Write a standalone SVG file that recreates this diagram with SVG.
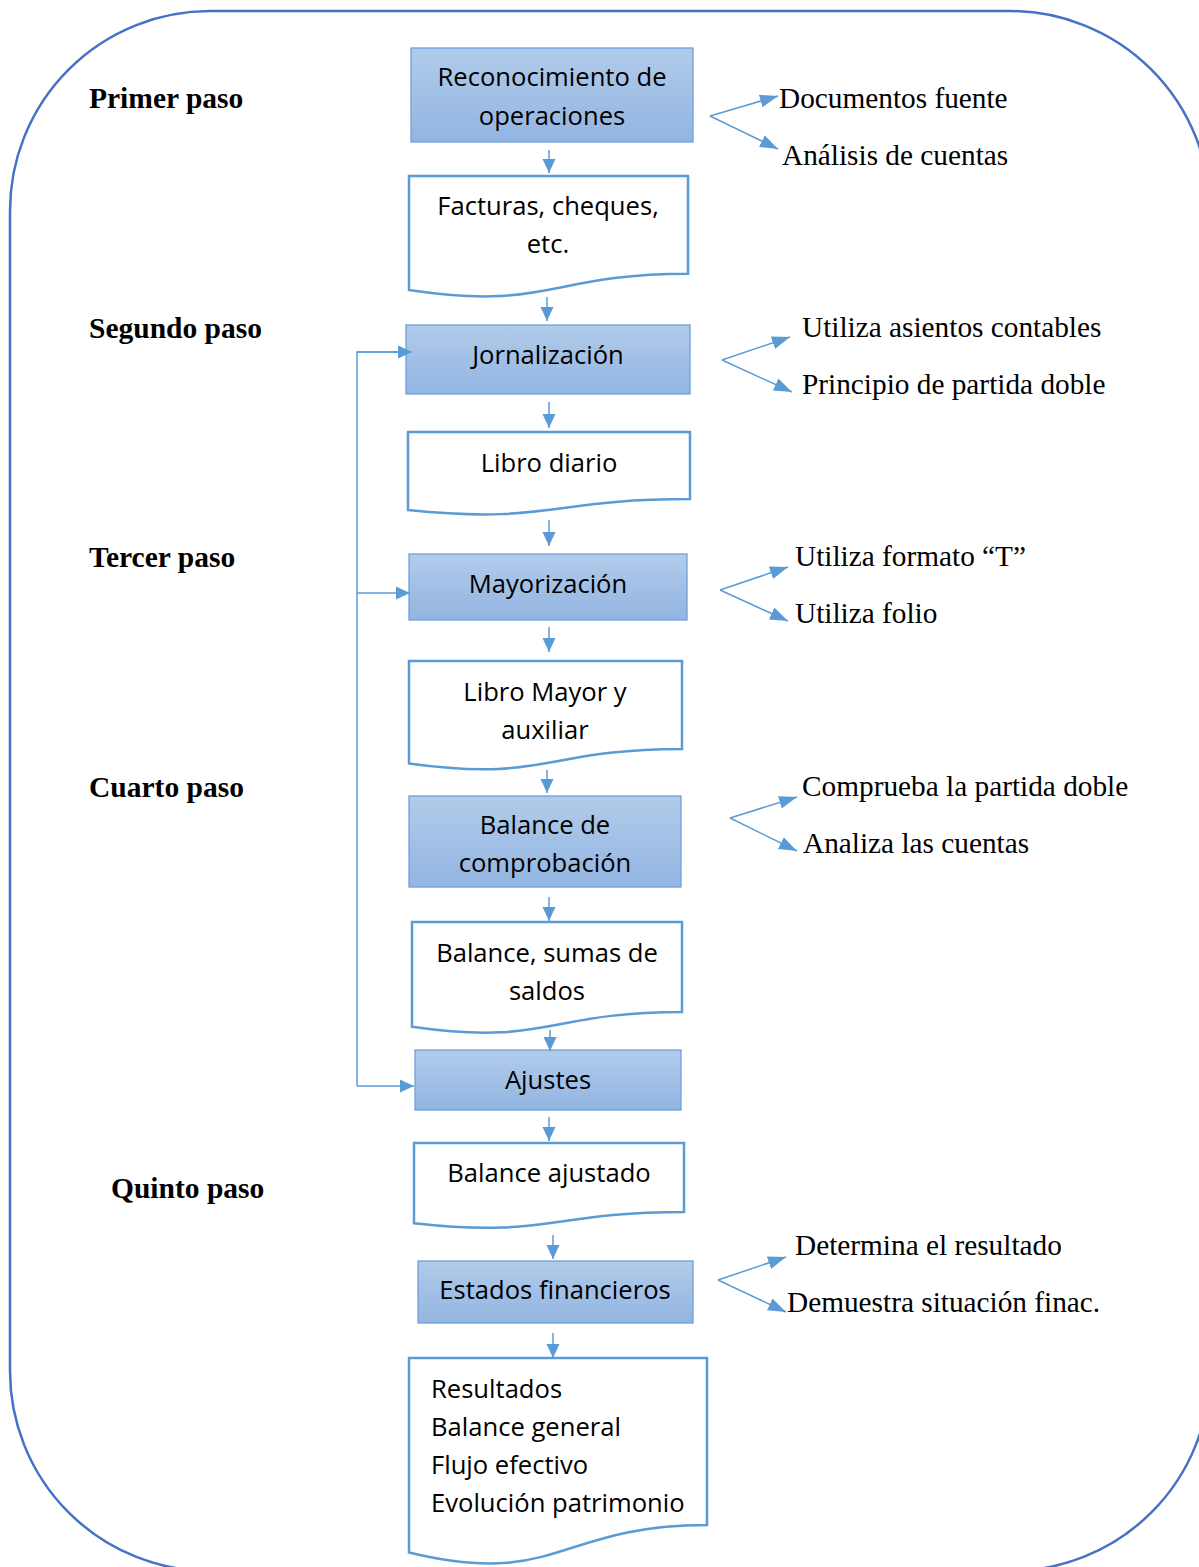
<svg xmlns="http://www.w3.org/2000/svg" width="1199" height="1567" viewBox="0 0 1199 1567">
<style>
.frame{fill:none;stroke:#4472C4;stroke-width:2.5}
.proc{fill:url(#g);stroke:#6fa0d6;stroke-width:1.3}
.doc{fill:#fff;stroke:#5b9bd5;stroke-width:2.5}
.t{font-family:"Open Sans","Noto Sans",sans-serif;font-size:25.6px;fill:#000;text-anchor:middle}
.tl{font-family:"Open Sans","Noto Sans",sans-serif;font-size:25.6px;fill:#000}
.step{font-family:"Liberation Serif","Times New Roman",serif;font-size:29.5px;font-weight:bold;fill:#000}
.lbl{font-family:"Liberation Serif","Times New Roman",serif;font-size:29.3px;fill:#000}
.c{fill:none;stroke:#5b9bd5;stroke-width:1.5}
.cv{fill:none;stroke:#5b9bd5;stroke-width:1.5;marker-end:url(#ah)}
.cf{fill:none;stroke:#5b9bd5;stroke-width:1.5;marker-end:url(#af)}
</style>
<defs>
<linearGradient id="g" x1="0" y1="0" x2="0" y2="1">
<stop offset="0" stop-color="#b1cbea"/>
<stop offset="1" stop-color="#93b5e2"/>
</linearGradient>
<marker id="ah" markerUnits="userSpaceOnUse" markerWidth="16" markerHeight="16" viewBox="0 0 16 16" refX="14" refY="8" orient="auto">
<path d="M0,1.5 L14,8 L0,14.5 Z" fill="#5b9bd5"/>
</marker>
<marker id="af" markerUnits="userSpaceOnUse" markerWidth="20" markerHeight="16" viewBox="0 0 20 16" refX="18" refY="8" orient="auto">
<path d="M0,1.5 L18,8 L0,14.5 Z" fill="#5b9bd5"/>
</marker>
</defs>

<rect class="frame" x="10" y="11" width="1200" height="1560" rx="200" ry="200"/>

<g id="steps">
<text class="step" x="89" y="108">Primer paso</text>
<text class="step" x="89" y="338">Segundo paso</text>
<text class="step" x="89" y="567">Tercer paso</text>
<text class="step" x="89" y="797">Cuarto paso</text>
<text class="step" x="111" y="1198">Quinto paso</text>
</g>

<g id="n1">
<rect class="proc" x="411" y="48" width="282" height="94"/>
<text class="t" x="552" y="86">Reconocimiento de</text>
<text class="t" x="552" y="125">operaciones</text>
</g>
<g id="n2">
<path class="doc" d="M409,176 H688 V273.8 C548.5,273.8 548.5,311.1 409,290 Z"/>
<text class="t" x="548" y="215">Facturas, cheques,</text>
<text class="t" x="548" y="253">etc.</text>
</g>
<g id="n3">
<rect class="proc" x="406" y="325" width="284" height="69"/>
<text class="t" x="548" y="364">Jornalización</text>
</g>
<g id="n4">
<path class="doc" d="M408,432 H690 V499 C549,499 549,524.4 408,510 Z"/>
<text class="t" x="549" y="472">Libro diario</text>
</g>
<g id="n5">
<rect class="proc" x="409" y="554" width="278" height="66"/>
<text class="t" x="548" y="593">Mayorización</text>
</g>
<g id="n6">
<path class="doc" d="M409,661 H682 V749 C545.5,749 545.5,782.5 409,763.5 Z"/>
<text class="t" x="545" y="701">Libro Mayor y</text>
<text class="t" x="545" y="739">auxiliar</text>
</g>
<g id="n7">
<rect class="proc" x="409" y="796" width="272" height="91"/>
<text class="t" x="545" y="834">Balance de</text>
<text class="t" x="545" y="872">comprobación</text>
</g>
<g id="n8">
<path class="doc" d="M412,922 H682 V1012 C547,1012 547,1046.2 412,1026.8 Z"/>
<text class="t" x="547" y="962">Balance, sumas de</text>
<text class="t" x="547" y="1000">saldos</text>
</g>
<g id="n9">
<rect class="proc" x="415" y="1050" width="266" height="60"/>
<text class="t" x="548" y="1089">Ajustes</text>
</g>
<g id="n10">
<path class="doc" d="M414,1143 H684 V1212 C549,1212 549,1238.2 414,1223.3 Z"/>
<text class="t" x="549" y="1182">Balance ajustado</text>
</g>
<g id="n11">
<rect class="proc" x="418" y="1261" width="275" height="62"/>
<text class="t" x="555" y="1299">Estados financieros</text>
</g>
<g id="n12">
<path class="doc" d="M409,1358 H707 V1525 C558,1525 558,1588.5 409,1552.5 Z"/>
<text class="tl" x="431" y="1398">Resultados</text>
<text class="tl" x="431" y="1436">Balance general</text>
<text class="tl" x="431" y="1474">Flujo efectivo</text>
<text class="tl" x="431" y="1512">Evolución patrimonio</text>
</g>

<g id="labels">
<text class="lbl" x="779" y="108">Documentos fuente</text>
<text class="lbl" x="782" y="165">Análisis de cuentas</text>
<text class="lbl" x="802" y="337">Utiliza asientos contables</text>
<text class="lbl" x="802" y="394">Principio de partida doble</text>
<text class="lbl" x="795" y="566">Utiliza formato “T”</text>
<text class="lbl" x="795" y="623">Utiliza folio</text>
<text class="lbl" x="802" y="796">Comprueba la partida doble</text>
<text class="lbl" x="803" y="853">Analiza las cuentas</text>
<text class="lbl" x="795" y="1255">Determina el resultado</text>
<text class="lbl" x="787" y="1312">Demuestra situación finac.</text>
</g>

<g id="connectors">
<line class="cv" x1="549" y1="150" x2="549" y2="173"/>
<line class="cv" x1="547" y1="297" x2="547" y2="321"/>
<line class="cv" x1="549" y1="402" x2="549" y2="428"/>
<line class="cv" x1="549" y1="520" x2="549" y2="546"/>
<line class="cv" x1="549" y1="627" x2="549" y2="652"/>
<line class="cv" x1="547" y1="770" x2="547" y2="793"/>
<line class="cv" x1="549" y1="897" x2="549" y2="921"/>
<line class="cv" x1="550" y1="1030" x2="550" y2="1051"/>
<line class="cv" x1="549" y1="1117" x2="549" y2="1141"/>
<line class="cv" x1="553" y1="1235" x2="553" y2="1259"/>
<line class="cv" x1="553" y1="1333" x2="553" y2="1358"/>

<path class="c" d="M411,352 H357 V1086"/>
<line class="cv" x1="357" y1="352" x2="412" y2="352"/>
<line class="cv" x1="357" y1="593" x2="410" y2="593"/>
<line class="cv" x1="357" y1="1086" x2="414" y2="1086"/>

<line class="cf" x1="710" y1="116" x2="778" y2="96"/>
<line class="cf" x1="710" y1="116" x2="778" y2="149"/>
<line class="cf" x1="722" y1="360" x2="790" y2="337"/>
<line class="cf" x1="722" y1="360" x2="792" y2="392"/>
<line class="cf" x1="720" y1="590" x2="788" y2="567"/>
<line class="cf" x1="720" y1="590" x2="788" y2="621"/>
<line class="cf" x1="730" y1="818" x2="797" y2="797"/>
<line class="cf" x1="730" y1="818" x2="797" y2="851"/>
<line class="cf" x1="718" y1="1280" x2="786" y2="1257"/>
<line class="cf" x1="718" y1="1280" x2="786" y2="1312"/>
</g>
</svg>
